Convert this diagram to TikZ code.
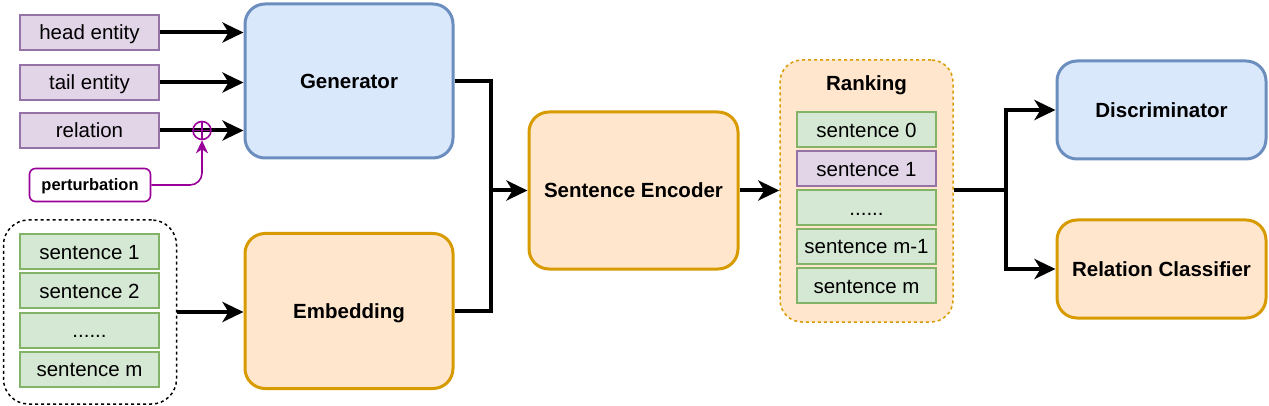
\documentclass[tikz,border=0pt]{standalone}
\usepackage{fontspec}
\setmainfont{Liberation Sans}
\usetikzlibrary{arrows.meta}
\definecolor{bluefill}{HTML}{DAE8FC}
\definecolor{blueline}{HTML}{6C8EBF}
\definecolor{orangefill}{HTML}{FFE6CC}
\definecolor{orangeline}{HTML}{D79B00}
\definecolor{purplefill}{HTML}{E1D5E7}
\definecolor{purpleline}{HTML}{9673A6}
\definecolor{greenfill}{HTML}{D5E8D4}
\definecolor{greenline}{HTML}{82B366}
\definecolor{pert}{HTML}{990099}
\tikzset{
  txt/.style={text height=15pt, text depth=0pt},
  bigbox/.style={rounded corners=20pt, line width=3pt, inner sep=0pt, txt,
    font=\bfseries\fontsize{20.5}{24}\selectfont},
  bluebox/.style={bigbox, draw=blueline, fill=bluefill},
  orangebox/.style={bigbox, draw=orangeline, fill=orangefill},
  smallbox/.style={line width=2pt, inner sep=0pt, minimum width=139pt, minimum height=35pt, txt,
    font=\fontsize{20.5}{24}\selectfont},
  purplebox/.style={smallbox, draw=purpleline, fill=purplefill},
  greenbox/.style={smallbox, draw=greenline, fill=greenfill},
  arr/.style={line width=4pt, -{Stealth[length=21pt,width=20pt,inset=6pt]}},
  thick line/.style={line width=4pt},
  pertarr/.style={draw=pert, line width=1.6pt, -{Stealth[length=13pt,width=12pt,inset=4pt]}, rounded corners=12pt},
}
\begin{document}
\begin{tikzpicture}[x=1pt,y=-1pt]
\useasboundingbox (0,0) rectangle (1269,406);

% inputs
\node[purplebox] (head) at (89.5,32.5) {head entity};
\node[purplebox] (tail) at (89.5,82.5) {tail entity};
\node[purplebox] (rel) at (89.5,130.5) {relation};
\node[rounded corners=6pt, draw=pert, line width=1.6pt, fill=white, inner sep=0pt,
  minimum width=121pt, minimum height=33pt, text height=12pt, text depth=0pt,
  font=\bfseries\fontsize{16.5}{20}\selectfont]
  (pert) at (90,185) {perturbation};

% generator
\node[bluebox, minimum width=208pt, minimum height=154pt] (gen) at (349,81) {Generator};

% sentence container
\node[draw, dashed, line width=1.5pt, rounded corners=25pt, minimum width=173pt, minimum height=184pt]
  (cont) at (90,312) {};
\node[greenbox] (s1) at (89.5,251.5) {sentence 1};
\node[greenbox] (s2) at (89.5,290.5) {sentence 2};
\node[greenbox] (s3) at (89.5,330) {......};
\node[greenbox] (s4) at (89.5,369) {sentence m};

% embedding
\node[orangebox, minimum width=208pt, minimum height=155pt] (emb) at (349,311) {Embedding};

% sentence encoder
\node[orangebox, minimum width=209pt, minimum height=157pt] (enc) at (633.5,190.5) {Sentence Encoder};

% ranking
\node[draw=orangeline, fill=orangefill, dashed, line width=1.5pt, rounded corners=22pt,
  minimum width=173pt, minimum height=262pt] (rank) at (866.5,191) {};
\node[font=\bfseries\fontsize{20.5}{24}\selectfont, txt] (ranktitle) at (866.5,83) {Ranking};
\node[greenbox] (r0) at (866.5,130) {sentence 0};
\node[purplebox] (r1) at (866.5,169) {sentence 1};
\node[greenbox] (r2) at (866.5,208) {......};
\node[greenbox] (r3) at (866.5,246.5) {sentence m-1};
\node[greenbox] (r4) at (866.5,285.5) {sentence m};

% outputs
\node[bluebox, minimum width=209pt, minimum height=98pt] (disc) at (1161.5,110) {Discriminator};
\node[orangebox, minimum width=209pt, minimum height=98pt] (cls) at (1161.5,269) {Relation Classifier};

% connectors
\draw[arr] (head.east) -- (head.east -| gen.west);
\draw[arr] (tail.east) -- (tail.east -| gen.west);
\draw[arr] (rel.east) -- (rel.east -| gen.west);
\node[circle, draw=pert, line width=1.6pt, minimum size=18pt, inner sep=0pt] (oplus) at (202,130.5) {};
\draw[draw=pert, line width=1.6pt] (oplus.north) -- (oplus.south) (oplus.west) -- (oplus.east);
\draw[pertarr] (pert.east) -| (oplus.south);

\coordinate (j1) at (491,190.5);
\draw[thick line] (gen.east) -| (j1);
\draw[thick line] (emb.east) -| (j1);
\draw[arr] (j1) -- (enc.west);
\draw[arr] (cont.east) -- (cont.east -| emb.west);
\draw[arr] (enc.east) -- (enc.east -| rank.west);

\coordinate (j2) at (1006,190.5);
\draw[thick line] (j2 -| rank.east) -- (j2);
\draw[arr] (j2) |- (disc.west);
\draw[arr] (j2) |- (cls.west);
\end{tikzpicture}
\end{document}
